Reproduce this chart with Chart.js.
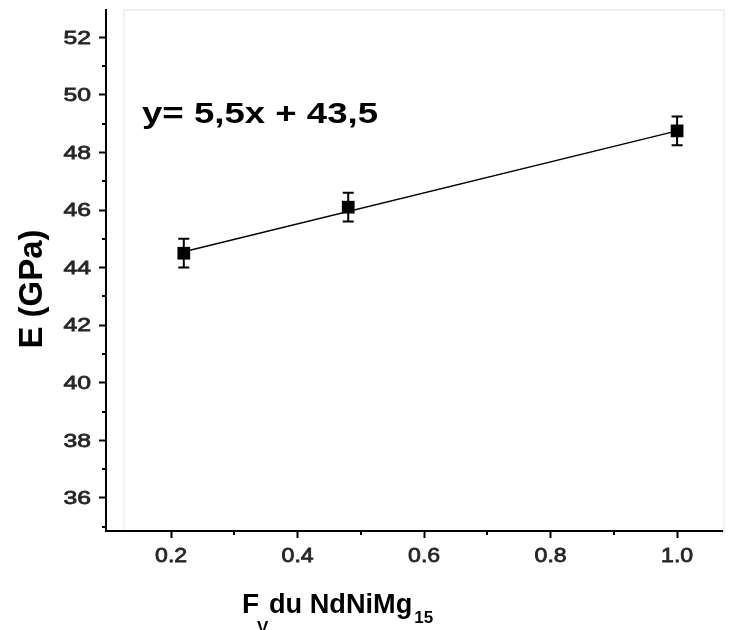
<!DOCTYPE html>
<html>
<head>
<meta charset="utf-8">
<script src="https://cdn.jsdelivr.net/npm/chart.js@4"></script>
<style>
  body { margin: 0; background: #fff; }
  #wrap { width: 734px; height: 630px; position: relative; }
</style>
</head>
<body>
<div id="wrap"><canvas id="chart"></canvas></div>
<script>
// Data
const fractions = [0.22, 0.48, 1.0];
const modulus = [44.5, 46.1, 48.75];
const modulusErr = [0.5, 0.5, 0.5];

// Fitted line end points (y= 5,5x + 43,5 as drawn)
const fitX = [0.22, 1.0];
const fitY = [44.55, 48.75];

// Axis ticks
const xTicks = [0.2, 0.4, 0.6, 0.8, 1.0];
const xMinorTicks = [0.3, 0.5, 0.7, 0.9];
const yTicks = [36, 38, 40, 42, 44, 46, 48, 50, 52];
const yMinorTicks = [35, 37, 39, 41, 43, 45, 47, 49, 51];

const equationText = 'y= 5,5x + 43,5';
const yTitle = 'E (GPa)';

// Draw text with a horizontal stretch factor, slightly thickened
function drawStretched(ctx, text, x, y, sx, align, thicken) {
    ctx.save();
    ctx.translate(x, y);
    ctx.scale(sx, 1);
    ctx.textAlign = align || 'left';
    ctx.fillText(text, 0, 0);
    if (thicken) {
        ctx.strokeStyle = ctx.fillStyle;
        ctx.lineWidth = thicken;
        ctx.strokeText(text, 0, 0);
    }
    ctx.restore();
}

// Error bars, minor ticks, labels and titles
const decorations = {
    id: 'decorations',
    beforeDraw(chart) {
        const { ctx, chartArea } = chart;
        // faint frame behind the plot
        ctx.save();
        ctx.strokeStyle = '#f1f1f1';
        ctx.lineWidth = 2;
        ctx.strokeRect(124, chartArea.top, chartArea.right + 2 - 124, chartArea.bottom - chartArea.top);
        ctx.restore();
    },
    beforeDatasetsDraw(chart) {
        const { ctx, scales } = chart;
        ctx.save();
        ctx.strokeStyle = '#000';
        ctx.lineWidth = 2;
        fractions.forEach((f, i) => {
            const px = scales.x.getPixelForValue(f);
            const top = scales.y.getPixelForValue(modulus[i] + modulusErr[i]);
            const bot = scales.y.getPixelForValue(modulus[i] - modulusErr[i]);
            ctx.beginPath();
            ctx.moveTo(px, top);
            ctx.lineTo(px, bot);
            ctx.moveTo(px - 5.5, top);
            ctx.lineTo(px + 5.5, top);
            ctx.moveTo(px - 5.5, bot);
            ctx.lineTo(px + 5.5, bot);
            ctx.stroke();
        });
        ctx.restore();
    },
    afterDraw(chart) {
        const { ctx, chartArea, scales } = chart;
        ctx.save();
        ctx.strokeStyle = '#000';
        ctx.lineWidth = 2;

        // minor ticks
        ctx.beginPath();
        yMinorTicks.forEach(v => {
            const py = Math.round(scales.y.getPixelForValue(v));
            ctx.moveTo(chartArea.left, py);
            ctx.lineTo(chartArea.left - 4, py);
        });
        xMinorTicks.forEach(v => {
            const px = Math.round(scales.x.getPixelForValue(v));
            ctx.moveTo(px, chartArea.bottom);
            ctx.lineTo(px, chartArea.bottom + 4);
        });
        ctx.stroke();

        // tick labels
        ctx.fillStyle = '#262626';
        ctx.textBaseline = 'middle';
        ctx.font = '19px "Liberation Sans", Arial, sans-serif';
        yTicks.forEach(v => {
            drawStretched(ctx, String(v), 91, scales.y.getPixelForValue(v) + 1, 1.3, 'right', 0.8);
        });
        ctx.font = '21px "Liberation Sans", Arial, sans-serif';
        xTicks.forEach(v => {
            drawStretched(ctx, v.toFixed(1), scales.x.getPixelForValue(v), 556, 1.1, 'center', 0.8);
        });

        // equation
        ctx.fillStyle = '#000';
        ctx.textBaseline = 'alphabetic';
        ctx.font = 'bold 30px "Liberation Sans", Arial, sans-serif';
        const eqW = ctx.measureText(equationText).width;
        drawStretched(ctx, equationText, 142, 123, 236 / eqW, 'left');

        // y title
        ctx.save();
        ctx.translate(42, 289);
        ctx.rotate(-Math.PI / 2);
        ctx.font = 'bold 33px "Liberation Sans", Arial, sans-serif';
        ctx.textAlign = 'center';
        ctx.fillText(yTitle, 0, 0);
        ctx.restore();

        // x title with subscripts
        ctx.textAlign = 'left';
        let x = 242;
        ctx.font = 'bold 28px "Liberation Sans", Arial, sans-serif';
        ctx.fillText('F', x, 613);
        x += ctx.measureText('F').width;
        ctx.font = 'bold 17px "Liberation Sans", Arial, sans-serif';
        ctx.fillText('V', x - 2, 633);
        ctx.font = 'bold 28px "Liberation Sans", Arial, sans-serif';
        x = 269;
        drawStretched(ctx, 'du NdNiMg', x, 613, 0.97, 'left');
        x += ctx.measureText('du NdNiMg').width * 0.97 + 2;
        ctx.font = 'bold 17px "Liberation Sans", Arial, sans-serif';
        ctx.fillText('15', x, 623);
        ctx.restore();
    }
};

new Chart(document.getElementById('chart'), {
    type: 'scatter',
    data: {
        datasets: [
            {
                data: fitX.map((x, i) => ({ x: x, y: fitY[i] })),
                showLine: true,
                borderColor: '#000',
                borderWidth: 1.5,
                pointRadius: 0
            },
            {
                data: fractions.map((x, i) => ({ x: x, y: modulus[i] })),
                pointStyle: 'rect',
                pointRadius: 9,
                backgroundColor: '#000',
                borderColor: '#000',
                borderWidth: 0
            }
        ]
    },
    options: {
        responsive: true,
        maintainAspectRatio: false,
        animation: false,
        layout: { padding: { top: 10, right: 12, left: 0, bottom: 0 } },
        plugins: {
            legend: { display: false },
            tooltip: { enabled: false }
        },
        scales: {
            x: {
                type: 'linear',
                min: 0.097,
                max: 1.071,
                afterBuildTicks: axis => { axis.ticks = xTicks.map(v => ({ value: v })); },
                afterFit: scale => { scale.height = 99; },
                ticks: { display: false },
                grid: {
                    drawOnChartArea: false,
                    drawTicks: true,
                    tickLength: 7,
                    tickColor: '#000',
                    tickWidth: 2
                },
                border: { color: '#000', width: 2 }
            },
            y: {
                min: 34.85,
                max: 52.95,
                afterBuildTicks: axis => { axis.ticks = yTicks.map(v => ({ value: v })); },
                afterFit: scale => { scale.width = 106; },
                ticks: { display: false },
                grid: {
                    drawOnChartArea: false,
                    drawTicks: true,
                    tickLength: 7,
                    tickColor: '#000',
                    tickWidth: 2
                },
                border: { color: '#000', width: 2 }
            }
        }
    },
    plugins: [decorations]
});
</script>
</body>
</html>
